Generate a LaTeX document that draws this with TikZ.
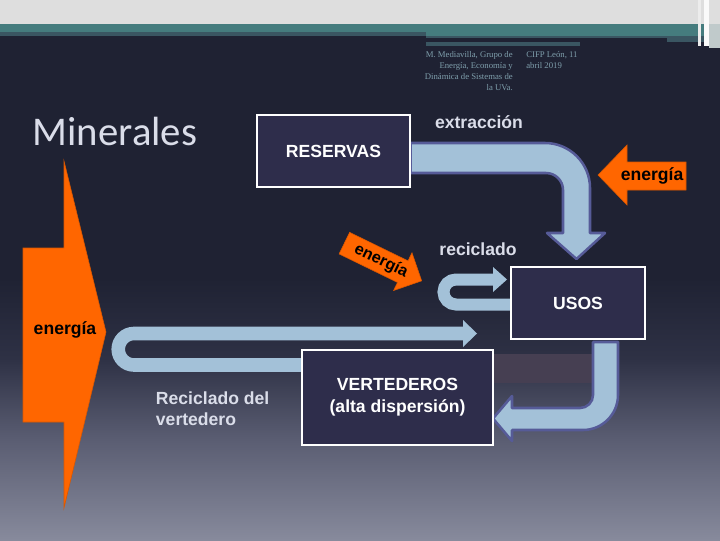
\documentclass[tikz,border=0pt]{standalone}
\usepackage{fontspec}
\setmainfont{Liberation Sans}
\newfontfamily\minfont{Carlito}
\newfontfamily\hdrfont{Liberation Serif}
\definecolor{navy}{HTML}{1F2233}
\definecolor{boxfill}{HTML}{2E2D4B}
\definecolor{pale}{HTML}{A3C1D8}
\definecolor{rim}{HTML}{565B98}
\definecolor{orng}{HTML}{FF6600}
\definecolor{txtgray}{HTML}{DADDE9}
\definecolor{tealband}{HTML}{457C7E}
\definecolor{hdrgray}{HTML}{DEDEDE}
\definecolor{slate}{HTML}{3A5662}
\definecolor{hdrtxt}{HTML}{7F9FAC}
\definecolor{bottomgray}{HTML}{878A9C}
\definecolor{midgray}{HTML}{5A5D72}
\definecolor{darkgray}{HTML}{2E3145}
\definecolor{mauve}{HTML}{463F52}
\pgfdeclareverticalshading{bgshade}{100bp}{color(0bp)=(bottomgray); color(25bp)=(bottomgray); color(35bp)=(midgray); color(43bp)=(darkgray); color(51bp)=(navy); color(100bp)=(navy)}
\pgfdeclarelayer{bg}
\pgfdeclarelayer{back}
\pgfsetlayers{bg,back,main}

\begin{document}
\begin{tikzpicture}[x=0.025cm, y=-0.025cm,
    box/.style={draw=white, fill=boxfill, line width=0.8pt, text=white, align=center, font=\bfseries\fontsize{12.5}{15.5}\selectfont},
    lbl/.style={text=txtgray, font=\bfseries\fontsize{12.5}{15}\selectfont},
    hotlbl/.style={text=black, font=\bfseries\fontsize{12.5}{15}\selectfont, inner sep=0pt},
    fat/.style={fill=pale, draw=rim, line width=1.8pt, line join=round},
    band/.style={draw=pale},
    hot/.style={fill=orng, draw=orng!85!black, line width=0.4pt}]
    \useasboundingbox (0,0) rectangle (720,540);
    \begin{pgfonlayer}{bg}
        \shade[shading=bgshade] (0,36) rectangle (720,540);
        \fill[hdrgray] (0,0) rectangle (720,24);
        \fill[tealband] (0,24) rectangle (720,36);
        \fill[slate] (0,32) rectangle (426,36);
        \fill[slate] (426,36) rectangle (707,42);
        \fill[slate] (426,42) rectangle (580,46);
        \fill[navy] (426,38) rectangle (667,42);
        \fill[white!85!gray] (698,0) rectangle (701,46);
        \fill[white!96!gray] (704,0) rectangle (709,46);
        \fill[hdrgray!80!tealband] (709,24) rectangle (720,48);
        \fill[mauve] (493,354) rectangle (593,383);
    \end{pgfonlayer}

    \node[anchor=north east, align=right, inner sep=0pt, text=hdrtxt, font=\hdrfont\fontsize{6.2}{7.8}\selectfont] (auth) at (513,51) {M. Mediavilla, Grupo de\\Energía, Economía y\\Dinámica de Sistemas de\\la UVa.};
    \node[anchor=north west, align=left, inner sep=0pt, text=hdrtxt, font=\hdrfont\fontsize{6.2}{7.8}\selectfont] (place) at (526,51) {CIFP León, 11\\abril 2019};
    \node[text=txtgray, font=\minfont\fontsize{29}{30}\selectfont] (title) at (115,131) {Minerales};

    \node[box, minimum width=3.825cm, minimum height=1.8cm] (res) at (333.5,151) {RESERVAS};
    \node[box, minimum width=3.35cm, minimum height=1.8cm] (usos) at (578,303) {USOS};
    \node[box, minimum width=4.775cm, minimum height=2.375cm] (vert) at (397.5,397.5) {VERTEDEROS\\(alta dispersión)};

    \node[lbl] (extr) at (479,122) {extracción};
    \node[lbl] (recic) at (478,249) {reciclado};
    \node[lbl, align=left, anchor=west] (recvert) at (151,409) {Reciclado del\\vertedero};

    \begin{pgfonlayer}{back}
        \draw[fat] (res.east |- 0,143) -- (545,143) .. controls (569.8,143) and (590,163.2) .. (590,188) -- (590,233) -- (605,233) -- (576.5,259) -- (547,233) -- (563,233) -- (563,190) .. controls (563,180.6) and (555.4,173) .. (546,173) -- (res.east |- 0,173) -- cycle;
        \draw[fat] (593,342) -- (618,342) -- (618,395) .. controls (618,414.3) and (602.3,430) .. (583,430) -- (512,430) -- (512,441) -- (493,418.5) -- (512,396) -- (512,408) -- (580,408) .. controls (587.2,408) and (593,402.2) .. (593,395) -- cycle;
        \draw[band, line width=0.3cm] (usos.west |- 0,304.5) -- (456,304.5) .. controls (449.1,304.5) and (443.5,298.9) .. (443.5,292) .. controls (443.5,285.1) and (449.1,279.5) .. (456,279.5) -- (494,279.5);
        \fill[pale] (493,267) -- (507,279.5) -- (493,292) -- cycle;
        \draw[band, line width=0.34cm] (vert.west |- 0,365) -- (134,365) .. controls (125.3,365) and (118.25,357.95) .. (118.25,349.25) .. controls (118.25,340.55) and (125.3,333.5) .. (134,333.5) -- (464,333.5);
        \fill[pale] (463,320) -- (477,333.5) -- (463,347) -- cycle;
    \end{pgfonlayer}

    \draw[hot] (64,161) -- (106,332) -- (64,508) -- (64,422) -- (23,422) -- (23,248) -- (64,248) -- cycle;
    \node[hotlbl] (en1) at (65,330) {energía};
    \draw[hot] (598,175) -- (627,145) -- (627,162) -- (686,162) -- (686,190) -- (627,190) -- (627,205) -- cycle;
    \node[hotlbl] (en2) at (652,176) {energía};
    \begin{scope}[shift={(383,262)}, rotate=-26]
        \draw[hot] (-43,-12) -- (22,-12) -- (22,-21) -- (43,0) -- (22,21) -- (22,12) -- (-43,12) -- cycle;
    \end{scope}
    \node[hotlbl, rotate=-26, font=\bfseries\fontsize{11.5}{14}\selectfont] (en3) at (381,261) {energía};
\end{tikzpicture}
\end{document}
